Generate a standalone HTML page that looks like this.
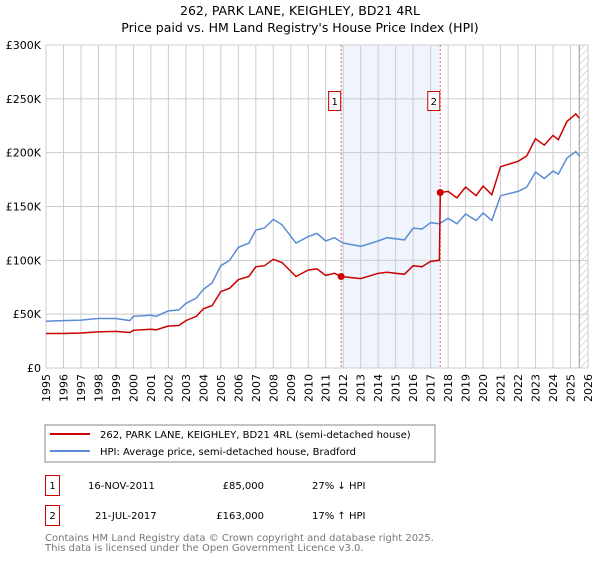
<!DOCTYPE html>
<html><head><meta charset="utf-8"><style>
body{margin:0;background:#fff;font-family:"DejaVu Sans","Liberation Sans",sans-serif;}
svg text{font-family:"DejaVu Sans","Liberation Sans",sans-serif;}
</style></head><body>
<svg width="600" height="560" xmlns="http://www.w3.org/2000/svg">
<defs><pattern id="hatch" width="5" height="5" patternUnits="userSpaceOnUse" patternTransform="rotate(45)"><line x1="0" y1="0" x2="0" y2="5" stroke="#bbb" stroke-width="1"/></pattern></defs>
<text x="300" y="15" text-anchor="middle" font-size="12.5" fill="#000">262, PARK LANE, KEIGHLEY, BD21 4RL</text>
<text x="300" y="32" text-anchor="middle" font-size="12.5" fill="#000">Price paid vs. HM Land Registry's House Price Index (HPI)</text>
<g id="plot"></g>
<rect x="45" y="425" width="390" height="37" fill="#fff" stroke="#888"/>
<line x1="50" y1="434" x2="90" y2="434" stroke="#cc0000" stroke-width="2"/>
<text x="100" y="438" font-size="10">262, PARK LANE, KEIGHLEY, BD21 4RL (semi-detached house)</text>
<line x1="50" y1="451" x2="90" y2="451" stroke="#5b8dd6" stroke-width="2"/>
<text x="100" y="455" font-size="10">HPI: Average price, semi-detached house, Bradford</text>
<g>
<rect x="45.5" y="475.5" width="14" height="20" fill="#fff" stroke="#cc0000"/>
<text x="52.5" y="489" text-anchor="middle" font-size="10">1</text>
<text x="88" y="489" font-size="10">16-NOV-2011</text>
<text x="264" y="489" text-anchor="end" font-size="10">£85,000</text>
<text x="312" y="489" font-size="10">27% ↓ HPI</text></g>
<g>
<rect x="45.5" y="505.5" width="14" height="20" fill="#fff" stroke="#cc0000"/>
<text x="52.5" y="519" text-anchor="middle" font-size="10">2</text>
<text x="95" y="519" font-size="10">21-JUL-2017</text>
<text x="264" y="519" text-anchor="end" font-size="10">£163,000</text>
<text x="312" y="519" font-size="10">17% ↑ HPI</text></g>
<text x="45" y="541" font-size="10" fill="#777">Contains HM Land Registry data © Crown copyright and database right 2025.</text>
<text x="45" y="551" font-size="10" fill="#777">This data is licensed under the Open Government Licence v3.0.</text>
</svg>
<script>
const hpiYears=[1995,1996,1997,1998,1999,1999.8,2000,2001,2001.3,2002,2002.6,2003,2003.6,2004,2004.5,2005,2005.5,2006,2006.6,2007,2007.5,2008,2008.5,2009.3,2010,2010.5,2011,2011.5,2012,2013,2014,2014.5,2015.5,2016,2016.5,2017,2017.5,2018,2018.5,2019,2019.6,2020,2020.5,2021,2022,2022.5,2023,2023.5,2024,2024.3,2024.8,2025.3,2025.5];
const hpiValues=[43.5,44,44.5,46,46,44,48,49,48,53,54,60,65,73,79,95,100,112,116,128,130,138,133,116,122,125,118,121,116,113,118,121,119,130,129,135,134,139,134,143,137,144,137,160,164,168,182,176,183,180,195,201,197];
const priceYears=[1995,1996,1997,1998,1999,1999.8,2000,2001,2001.3,2002,2002.6,2003,2003.6,2004,2004.5,2005,2005.5,2006,2006.6,2007,2007.5,2008,2008.5,2009.3,2010,2010.5,2011,2011.5,2011.88,2013,2014,2014.5,2015.5,2016,2016.5,2017,2017.5,2017.55,2018,2018.5,2019,2019.6,2020,2020.5,2021,2022,2022.5,2023,2023.5,2024,2024.3,2024.8,2025.3,2025.5];
const priceValues=[32,32,32.5,33.5,34,33,35,36,35.5,39,39.5,44,48,55,58,71,74,82,85,94,95,101,98,85,91,92,86,88,85,83,88,89,87,95,94,99,100,163,164,158,168,160,169,161,187,192,197,213,207,216,212,229,236,232];
const yTicks=[0,50,100,150,200,250,300];
const yTickLabels=["£0","£50K","£100K","£150K","£200K","£250K","£300K"];
const xTicks=[1995,1996,1997,1998,1999,2000,2001,2002,2003,2004,2005,2006,2007,2008,2009,2010,2011,2012,2013,2014,2015,2016,2017,2018,2019,2020,2021,2022,2023,2024,2025,2026];
const saleYears=[2011.88,2017.55];
const saleValues=[85,163];
const saleLabels=["1","2"];
const X0=46,X1=588,Y0=368,Y1=45;
const x=v=>X0+(v-1995)/31*(X1-X0);
const y=v=>Y0-v/300*(Y0-Y1);
const NS="http://www.w3.org/2000/svg";
const g=document.getElementById('plot');
function mk(t,a){const e=document.createElementNS(NS,t);for(const k in a)e.setAttribute(k,a[k]);g.appendChild(e);return e;}
let e;
e=mk('rect',{x:x(saleYears[0]),y:Y1,width:x(saleYears[1])-x(saleYears[0]),height:Y0-Y1,fill:'#f0f4fc'});


e=mk('rect',{x:x(2025.5),y:Y1,width:X1-x(2025.5),height:Y0-Y1,fill:'url(#hatch)'});


yTicks.forEach((t,i)=>{
 e=mk('line',{x1:X0,x2:X1,y1:y(t),y2:y(t),stroke:'#ccc'});
 
 
 e=mk('text',{x:X0-5,y:y(t)+4,'text-anchor':'end','font-size':'11'});e.textContent=yTickLabels[i];
 
 
});
xTicks.forEach(t=>{
 e=mk('line',{x1:x(t),x2:x(t),y1:Y1,y2:Y0,stroke:'#ccc'});
 
 
 e=mk('text',{x:0,y:0,'text-anchor':'end','font-size':'11',transform:`translate(${x(t)+4},${Y0+6}) rotate(-90)`});e.textContent=t;
 
 
});
e=mk('line',{x1:x(2025.5),x2:x(2025.5),y1:Y1,y2:Y0,stroke:'#999'});


saleYears.forEach((s,i)=>{
 e=mk('line',{x1:x(s),x2:x(s),y1:Y1,y2:Y0,stroke:'#e66',"stroke-dasharray":'2,2'});
 
 
});
function path(xs,vs,c,n){
 e=mk('path',{d:xs.map((t,i)=>(i?'L':'M')+x(t).toFixed(1)+','+y(vs[i]).toFixed(1)).join(''),fill:'none',stroke:c,'stroke-width':1.5});
 
 
}
path(hpiYears,hpiValues,'#5b8dd6','hpi-line');
path(priceYears,priceValues,'#cc0000','price-paid-line');
saleYears.forEach((s,i)=>{
 e=mk('circle',{cx:x(s),cy:y(saleValues[i]),r:3.5,fill:'#cc0000'});
 
 
 e=mk('rect',{x:x(s)-12.5,y:91.5,width:12,height:19,fill:'#fff',stroke:'#cc0000'});
 
 
 e=mk('text',{x:x(s)-6.5,y:105,'text-anchor':'middle','font-size':'10'});e.textContent=saleLabels[i];
 
 
});
</script>
</body></html>
